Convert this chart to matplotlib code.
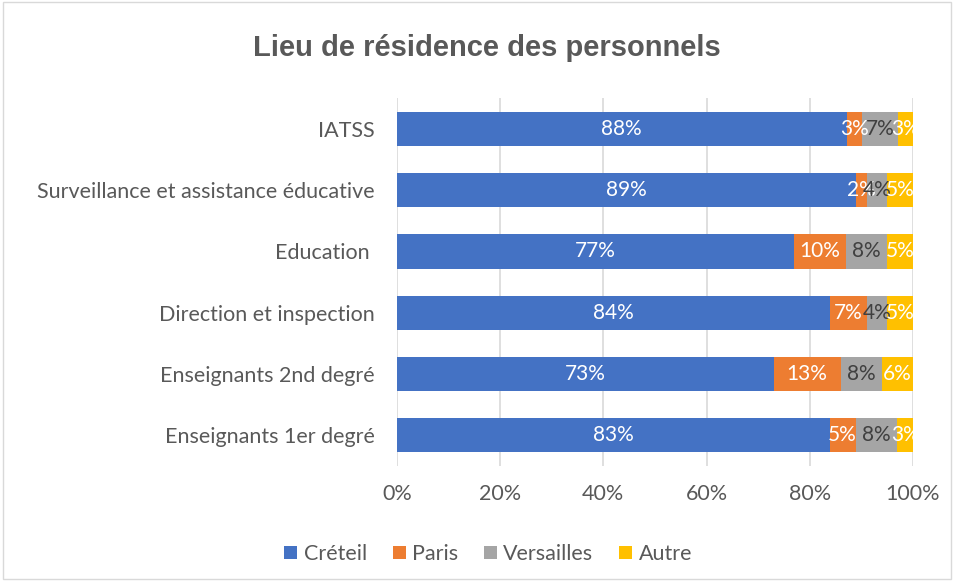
import numpy as np
import matplotlib.pyplot as plt
from matplotlib.patches import Rectangle

categories = ["Enseignants 1er degré", "Enseignants 2nd degré", "Direction et inspection",
              "Education ", "Surveillance et assistance éducative", "IATSS"]
creteil = [83, 73, 84, 77, 89, 88]
paris = [5, 13, 7, 10, 2, 3]
versailles = [8, 8, 4, 8, 4, 7]
autre = [3, 6, 5, 5, 5, 3]

series = [("Créteil", creteil, "#4472c4", "white"),
          ("Paris", paris, "#ed7d31", "white"),
          ("Versailles", versailles, "#a5a5a5", "#404040"),
          ("Autre", autre, "#ffc000", "white")]

plt.rcParams['font.family'] = ['Lato', 'DejaVu Sans']

fig = plt.figure(figsize=(9.54, 5.81), dpi=100)
ax = fig.add_axes([0.416, 0.198, 0.541, 0.633])

totals = np.array(creteil) + np.array(paris) + np.array(versailles) + np.array(autre)
y = np.arange(len(categories))
left = np.zeros(len(categories))
for name, vals, col, tcol in series:
    share = np.array(vals) / totals
    ax.barh(y, share, left=left, height=0.56, color=col, label=name, zorder=3)
    for yi, l, s, v in zip(y, left, share, vals):
        ax.text(l + s / 2, yi, f"{v}%", ha='center', va='center', color=tcol,
                fontsize=15, zorder=4)
    left += share

ax.set_xlim(0, 1)
ax.set_ylim(-0.5, len(categories) - 0.5)
ax.set_xticks(np.arange(0, 1.01, 0.2))
ax.set_xticklabels([f"{int(t * 100)}%" for t in np.arange(0, 1.01, 0.2)])
ax.set_yticks(y)
ax.set_yticklabels(categories)
ax.tick_params(axis='both', length=0, labelsize=15.5, colors='#595959')
ax.tick_params(axis='y', pad=16)
ax.tick_params(axis='x', pad=13)
ax.grid(axis='x', color='#d9d9d9', linewidth=1.2, zorder=0)
for sp in ax.spines.values():
    sp.set_visible(False)

fig.text(0.51, 0.917, "Lieu de résidence des personnels", ha='center', va='center',
         fontsize=21, fontweight='bold', color='#595959', family='Liberation Sans')

ax.legend(loc='center', bbox_to_anchor=(0.177, -0.24), ncol=4, frameon=False,
          fontsize=15.5, handlelength=0.6, handleheight=0.6, handletextpad=0.3,
          columnspacing=1.2, labelcolor='#595959')

fig.patches.append(Rectangle((0.003, 0.003), 0.994, 0.994, transform=fig.transFigure,
                             fill=False, edgecolor='#d9d9d9', linewidth=1))

fig.savefig("out.png", dpi=100)
